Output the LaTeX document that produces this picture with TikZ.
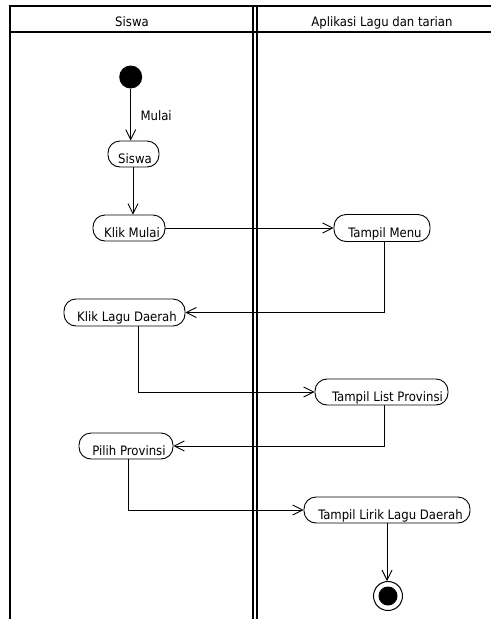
\documentclass[tikz,border=0pt]{standalone}
\usepackage{fontspec}
\setmainfont{DejaVu Sans Condensed}
\usetikzlibrary{arrows.meta}
\newcommand\actlbl[2][6pt]{\raisebox{-9pt}[0pt][0pt]{\hspace{#1}#2}}
\tikzset{
  act/.style={draw, line width=0.9pt, rounded corners=12pt, minimum height=26pt, inner sep=0pt},
  flow/.style={line width=0.9pt, -{Straight Barb[length=10pt,width=10pt,line width=0.9pt]}},
  lane/.style={line width=2pt},
  lanetext/.style={anchor=base}
}
\begin{document}
\begin{tikzpicture}[x=1pt,y=-1pt,font=\fontsize{13}{15}\selectfont]
\useasboundingbox (0,0) rectangle (491,619);
% frame
\draw[lane] (9,6) -- (491,6);
\draw[lane] (10,5) -- (10,619);
\draw[line width=1.6pt] (10,32) -- (491,32);
\draw[lane] (253,5) -- (253,619);
\draw[lane] (256.5,5) -- (256.5,619);
\node[lanetext] (h1) at (132,26) {Siswa};
\node[lanetext] (h2) at (382,26) {Aplikasi Lagu dan tarian};
% nodes
\node[circle, fill=black, minimum size=23pt, inner sep=0pt] (start) at (130.7,77) {};
\node[act, minimum width=51pt] (siswa) at (133.5,154) {\actlbl[3pt]{Siswa}};
\node[act, minimum width=72pt] (klikmulai) at (129,228) {\actlbl{Klik Mulai}};
\node[act, minimum width=96pt, minimum height=27pt] (tampilmenu) at (382,228) {\actlbl{Tampil Menu}};
\node[act, minimum width=121pt, minimum height=27pt] (kliklagu) at (124.5,312.5) {\actlbl[5pt]{Klik Lagu Daerah}};
\node[act, minimum width=133pt] (tampillist) at (381.5,392) {\actlbl[12pt]{Tampil List Provinsi}};
\node[act, minimum width=94pt] (pilih) at (126,446) {\actlbl[6pt]{Pilih Provinsi}};
\node[act, minimum width=166pt] (tampillirik) at (387,510) {\actlbl[7pt]{Tampil Lirik Lagu Daerah}};
\node[circle, draw, line width=1pt, minimum size=29pt, inner sep=0pt] (end) at (388,596) {};
\node[circle, fill=black, minimum size=19pt, inner sep=0pt] (endin) at (end.center) {};
% connectors
\coordinate (sx) at (133,0);
\draw[flow] (start) -- (start |- siswa.north);
\node[anchor=base west] (mulai) at (137,120) {Mulai};
\draw[flow] (siswa.south -| sx) -- (klikmulai.north -| sx);
\draw[flow] (klikmulai.east) -- (tampilmenu.west);
\draw[flow] ([xshift=2pt]tampilmenu.south) |- (kliklagu.east);
\draw[flow] ([xshift=13.5pt]kliklagu.south) |- (tampillist.west);
\draw[flow] ([xshift=2.5pt]tampillist.south) |- (pilih.east);
\draw[flow] ([xshift=2pt]pilih.south) |- (tampillirik.west);
\draw[flow] (tampillirik.south) -- (tampillirik.south |- end.north);
\end{tikzpicture}
\end{document}
